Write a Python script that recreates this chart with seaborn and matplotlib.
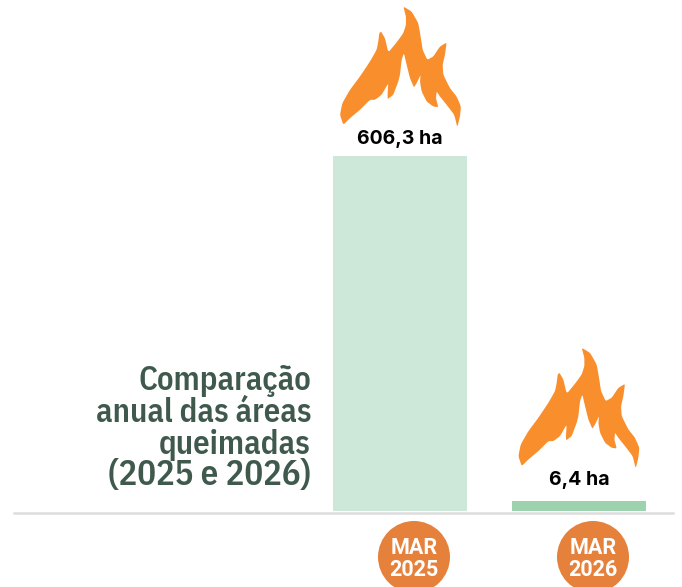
import matplotlib
matplotlib.use("Agg")
import matplotlib.pyplot as plt
import numpy as np
import pandas as pd
import seaborn as sns
from matplotlib.patches import Circle, Polygon
from matplotlib.transforms import Affine2D, IdentityTransform

W, H = 682, 587

months = ["MAR 2025", "MAR 2026"]
month_labels = [("MAR", "2025"), ("MAR", "2026")]
burned_ha = [606.3, 6.4]
# the small bar is drawn taller than its value in the original, so read it off
drawn_height = [606.3, 17.1]
value_labels = ["606,3 ha", "6,4 ha"]
title_lines = ["Comparação", "anual das áreas", "queimadas", "(2025 e 2026)"]
bar_colors = ["#cde7d8", "#9cd3ae"]

# flame icon outline, in pixels of the 3x zoom
flame_x = [250, 275, 295, 302, 308, 322, 340, 360, 380, 375, 368, 370, 390, 410, 423,
           420, 412, 403, 380, 360, 350, 348, 355, 340, 320, 305, 300, 302, 290, 282, 270,
           260, 252, 245, 240, 235, 220, 203, 203, 205, 185, 165, 150, 120, 90, 70, 60,
           67, 90, 120, 150, 170, 175, 178, 183, 195, 205, 232, 250, 258, 258]
flame_y = [20, 35, 70, 110, 150, 180, 170, 140, 128, 165, 195, 225, 265, 290, 320,
           350, 382, 345, 315, 290, 275, 295, 322, 320, 305, 275, 245, 225, 250, 263, 235,
           195, 160, 180, 225, 245, 285, 298, 280, 250, 285, 300, 300, 330, 355, 375, 345,
           310, 270, 230, 185, 150, 125, 100, 95, 115, 158, 125, 100, 75, 50]


def smooth(pts, passes=2):
    # light corner cutting so the flame does not look faceted
    for _ in range(passes):
        nxt = np.roll(pts, -1, axis=0)
        pts = np.column_stack([0.88 * pts + 0.12 * nxt, 0.12 * pts + 0.88 * nxt]).reshape(-1, 2)
    return pts


def draw_flame(fig, tip_x, tip_y):
    pts = np.column_stack([flame_x, flame_y]) / 3.0
    pts = smooth(pts - pts[0])
    tr = Affine2D().scale(1, -1).translate(tip_x, H - tip_y)
    fig.add_artist(Polygon(pts, closed=True, facecolor="#f98e2d", edgecolor="none", transform=tr))


def px_text(fig, x, y, s, **kw):
    fig.text(x / W, 1 - y / H, s, **kw)


def main():
    sns.set_theme(style="white")
    fig = plt.figure(figsize=(W / 100, H / 100), dpi=100, facecolor="white")
    ax = fig.add_axes([14 / W, 1 - 511 / H, 659 / W, 355 / H])

    df = pd.DataFrame({"month": months, "height": drawn_height})
    sns.barplot(data=df, x="month", y="height", hue="month", palette=bar_colors,
                width=134 / 179, saturation=1, legend=False, linewidth=0, ax=ax)
    ax.set_xlim((14 - 400) / 179, (673 - 400) / 179)
    ax.set_ylim(0, 606.3)
    ax.set_xlabel("")
    ax.set_ylabel("")
    ax.set_xticks([])
    ax.set_yticks([])
    ax.patch.set_alpha(0)
    sns.despine(ax=ax, left=True, top=True, right=True)
    ax.spines["bottom"].set_position(("outward", 1.5))
    ax.spines["bottom"].set_color("#dddddd")
    ax.spines["bottom"].set_linewidth(1.8)

    # value labels sit just above each bar
    for i, (h, lab, off) in enumerate(zip(drawn_height, value_labels, [8.6, 11.3])):
        ax.annotate(lab, (i, h), xytext=(0, off), textcoords="offset points", ha="center",
                    va="baseline", fontsize=14, fontweight="bold", family="Inter",
                    color="black", annotation_clip=False)

    draw_flame(fig, 403.3, 6.5)
    draw_flame(fig, 581.7, 347.8)

    # the digits run wider in the original, hence the bigger last line
    for line, y, size in zip(title_lines, [390, 422, 454, 485], [23.5, 23.5, 23.5, 25]):
        px_text(fig, 311, y, line, ha="right", va="baseline", fontsize=size, fontweight=600,
                family=["IBM Plex Sans Condensed", "Roboto"], color="#3f5a4d")

    for cx, (mon, yr) in zip([414, 593], month_labels):
        fig.add_artist(Circle((cx, H - 557), 36, facecolor="#e6813b", edgecolor="none",
                              transform=IdentityTransform()))
        px_text(fig, cx, 553.5, mon, ha="center", va="baseline", fontsize=15.5,
                fontweight="bold", family="Roboto", color="white")
        px_text(fig, cx, 576, yr, ha="center", va="baseline", fontsize=15.5,
                fontweight="bold", family="Roboto", color="white")

    fig.savefig("out.png", dpi=100)


if __name__ == "__main__":
    main()
